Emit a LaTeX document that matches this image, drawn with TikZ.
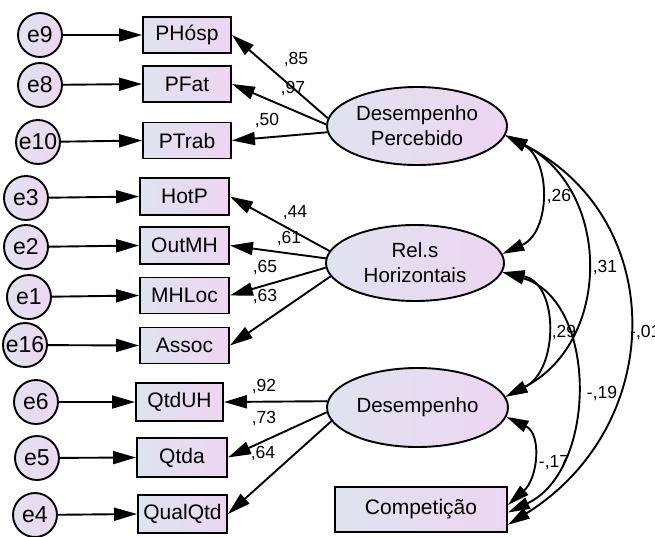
\documentclass[tikz,border=0pt]{standalone}
\usepackage{fontspec}
\setmainfont{Liberation Sans}
\usetikzlibrary{shapes.geometric,arrows.meta}
\definecolor{gL}{HTML}{DFE3F0}
\definecolor{gR}{HTML}{EDD5F1}
\definecolor{cF}{HTML}{E7DEF1}
\tikzset{
 obs/.style={draw, line width=1.9pt, left color=gL, right color=gR, minimum width=88pt, minimum height=36pt, inner sep=0pt, font=\fontsize{21}{24}\selectfont},
 lat/.style={ellipse, draw, line width=1.9pt, left color=gL, right color=gR, minimum width=180pt, minimum height=78pt, inner sep=0pt, align=center, font=\fontsize{20.5}{25}\selectfont},
 err/.style={circle, draw, line width=1.9pt, left color=gL!60!cF, right color=gR!70!cF, minimum size=44pt, inner sep=0pt, font=\fontsize{23}{24}\selectfont},
 pth/.style={line width=1.9pt, -{Triangle[length=23pt,width=13pt]}},
 cov/.style={line width=1.9pt, {Triangle[length=22pt,width=12pt]}-{Triangle[length=22pt,width=12pt]}},
 lbl/.style={font=\fontsize{17.5}{19}\selectfont, inner sep=0pt},
}
\begin{document}
\begin{tikzpicture}[x=1pt,y=1pt]
\useasboundingbox (0,0) rectangle (655,-536);
% error terms
\node[err] (e9) at (40,-35) {e9};
\node[err] (e8) at (40,-85) {e8};
\node[err] (e10) at (38,-142) {e10};
\node[err] (e3) at (26,-198) {e3};
\node[err] (e2) at (26,-247) {e2};
\node[err] (e1) at (29,-297) {e1};
\node[err] (e16) at (25,-345) {e16};
\node[err] (e6) at (36,-402) {e6};
\node[err] (e5) at (37,-458) {e5};
\node[err] (e4) at (35,-515) {e4};
% observed
\node[obs] (PH) at (187,-35) {PHósp};
\node[obs] (PF) at (187,-84) {PFat};
\node[obs] (PT) at (187,-140.5) {PTrab};
\node[obs, minimum width=89pt, minimum height=37pt] (HP) at (184.5,-196.5) {HotP};
\node[obs, minimum width=89pt, minimum height=37pt] (OM) at (184.5,-245.5) {OutMH};
\node[obs, minimum width=89pt, minimum height=36pt] (ML) at (184.5,-295.5) {MHLoc};
\node[obs, minimum width=89pt, minimum height=36pt] (AS) at (184.5,-345.5) {Assoc};
\node[obs, minimum width=87pt, minimum height=38pt] (QU) at (179.5,-402) {QtdUH};
\node[obs, minimum width=90pt, minimum height=39pt] (QA) at (182,-457.5) {Qtda};
\node[obs, minimum width=89pt, minimum height=38pt] (QQ) at (182.5,-514) {QualQtd};
\node[obs, minimum width=172pt, minimum height=45pt] (CP) at (421,-509.5) {Competição};
% latent
\node[lat] (DP) at (417,-126) {Desempenho\\Percebido};
\node[lat, minimum width=178pt, minimum height=76pt] (RH) at (415,-263) {Rel.s\\Horizontais};
\node[lat, minimum width=181pt, minimum height=79pt] (DS) at (417.5,-407.5) {Desempenho};
% error paths
\foreach \e/\o in {e9/PH,e8/PF,e10/PT,e3/HP,e2/OM,e1/ML,e16/AS,e6/QU,e5/QA,e4/QQ}
  \draw[pth] (\e) -- (\o.west);
% loadings
\draw[pth] (DP.175) -- (PH.east);
\draw[pth] (DP.179) -- (PF.east);
\draw[pth] (DP.184) -- (PT.east);
\draw[pth] (RH.172) -- (HP.east);
\draw[pth] (RH.177) -- (OM.east);
\draw[pth] (RH.183) -- (ML.east);
\draw[pth] (RH.189) -- (AS.east);
\draw[pth] (DS.176) -- (QU.east);
\draw[pth] (DS.183) -- (QA.east);
\draw[pth] (DS.189) -- (QQ.east);
% covariances
\draw[cov] (DP.-6) .. controls (551,-160) and (551,-232) .. (RH.6);
\draw[cov] (DP.-6) .. controls (612,-190) and (612,-342) .. (DS.7);
\draw[cov] (DP.-6) .. controls (668,-218) and (668,-425) .. (CP.-10);
\draw[cov] (RH.-6) .. controls (559,-283) and (559,-370) .. (DS.7);
\draw[cov] (RH.-6) .. controls (598,-300) and (598,-470) .. (CP.-2);
\draw[cov] (DS.-6) .. controls (542,-434) and (538,-478) .. (CP.3);
% labels
\node[lbl] (l85) at (296,-60) {,85};
\node[lbl] (l97) at (293,-89) {,97};
\node[lbl] (l50) at (267,-121) {,50};
\node[lbl] (l44) at (295,-213) {,44};
\node[lbl] (l61) at (289,-239) {,61};
\node[lbl] (l65) at (265,-268) {,65};
\node[lbl] (l63) at (265,-297) {,63};
\node[lbl] (l92) at (264,-387) {,92};
\node[lbl] (l73) at (264,-419) {,73};
\node[lbl] (l64) at (263,-453) {,64};
\node[lbl] (l26) at (559,-197) {,26};
\node[lbl] (l31) at (605,-268) {,31};
\node[lbl] (l29) at (564,-333) {,29};
\node[lbl] (l19) at (602,-394) {-,19};
\node[lbl] (l17) at (554,-463) {-,17};
\node[lbl, anchor=west] (l01) at (630,-333) {-,01};
\end{tikzpicture}
\end{document}
